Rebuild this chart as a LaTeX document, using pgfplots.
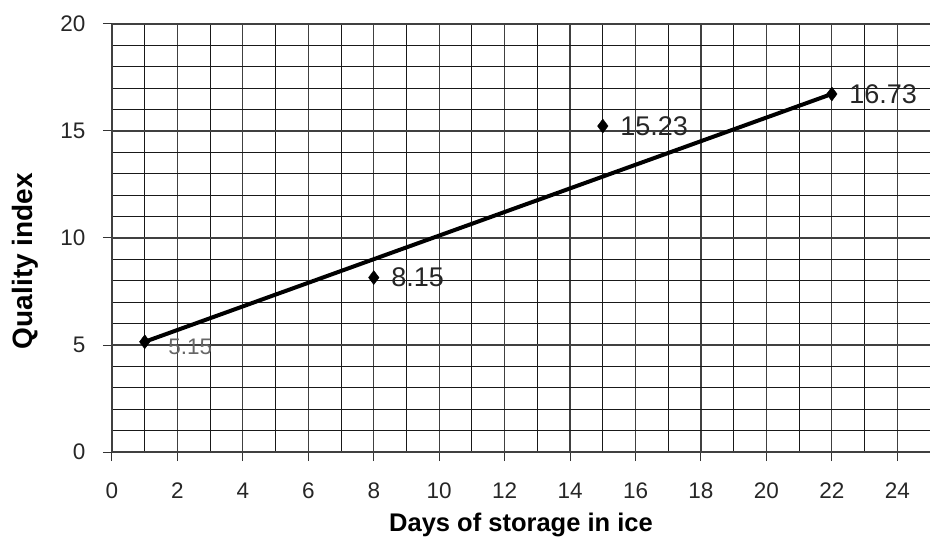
\documentclass[border=0pt]{standalone}
\usepackage{fontspec}
\setmainfont{Liberation Sans}
\usepackage{pgfplots}
\pgfplotsset{compat=1.18}
\begin{document}
\begin{tikzpicture}
\begin{axis}[
  scale only axis, width=818pt, height=428pt,
  xmin=0, xmax=25, ymin=0, ymax=20,
  xtick={0,2,...,24}, ytick={0,5,...,20},
  minor xtick={1,3,...,25}, minor ytick={1,...,19},
  grid=both,
  major grid style={black!75, line width=1.2pt},
  minor grid style={black!90, line width=1pt},
  axis lines*=left,
  axis line style={black!75, line width=1.2pt},
  tick align=outside, major tick length=9pt, minor tick length=0pt,
  tick style={black!80, line width=1pt},
  /pgf/number format/assume math mode=true,
  xticklabel={\pgfmathprintnumber{\tick}},
  yticklabel={\pgfmathprintnumber{\tick}},
  tick label style={font=\fontsize{22.5}{22.5}\selectfont, text=black!85},
  xticklabel style={yshift=-18pt},
  yticklabel style={xshift=-14pt},
  xlabel={Days of storage in ice},
  ylabel={Quality index},
  xlabel style={font=\bfseries\fontsize{25.5}{25.5}\selectfont, at={(axis description cs:0.5,-0.1706)}, anchor=center},
  ylabel style={font=\bfseries\fontsize{28}{28}\selectfont, at={(axis description cs:-0.1064,0.446)}, anchor=center, rotate=0},
  clip=false,
]
\addplot[black, line width=4pt, line cap=round] coordinates {(1,5.15) (22,16.73)};
\addplot[only marks, mark=diamond*, mark size=7pt, black,
  nodes near coords, point meta=explicit symbolic,
  nodes near coords style={anchor=west, xshift=14pt, text=black!85, font=\fontsize{27}{27}\selectfont}]
  table[meta=label] {
x y label
8 8.15 8.15
15 15.23 15.23
22 16.73 16.73
};
\addplot[only marks, mark=diamond*, mark size=7pt, black,
  nodes near coords, point meta=explicit symbolic,
  nodes near coords style={anchor=west, xshift=20pt, yshift=-5pt, text=black!60, font=\fontsize{22.5}{22.5}\selectfont}]
  table[meta=label] {
x y label
1 5.15 5.15
};
\end{axis}
\pgfresetboundingbox
\path ([xshift=-112pt,yshift=-91pt]current axis.south west) rectangle ([yshift=24pt]current axis.north east);
\end{tikzpicture}
\end{document}
